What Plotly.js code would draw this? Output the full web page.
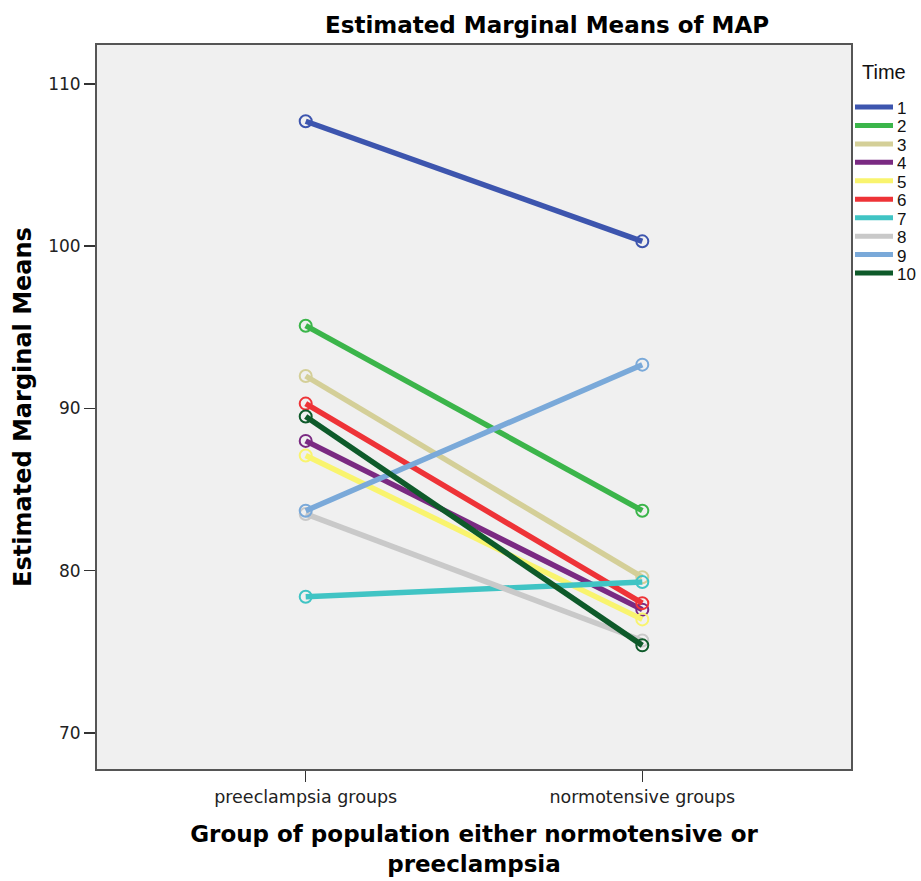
<!DOCTYPE html>
<html><head><meta charset="utf-8">
<script src="https://cdn.plot.ly/plotly-3.0.1.min.js"></script>
<style>body{margin:0;background:#fff}#chart{width:921px;height:881px}</style>
</head><body><div id="chart"></div>
<script>
const groups = ["preeclampsia groups", "normotensive groups"];
const times = ["1","2","3","4","5","6","7","8","9","10"];
const preValues  = [107.7, 95.1, 92.0, 88.0, 87.1, 90.3, 78.4, 83.5, 83.7, 89.5];
const normValues = [100.3, 83.7, 79.6, 77.6, 77.0, 78.0, 79.3, 75.7, 92.7, 75.4];
const colors = ["#3D55AE","#3BB54A","#D4CF98","#7A2A82","#F9F46E","#EE3337","#40C4C4","#C9C9C9","#7AA9D9","#0E5A2A"];
const yTicks = [70, 80, 90, 100, 110];

const traces = times.map((t, i) => ({
  x: groups, y: [preValues[i], normValues[i]], type: 'scatter', mode: 'lines+markers', name: t,
  line: {color: colors[i], width: 5.5},
  marker: {symbol: 'circle-open', size: 12, color: colors[i], line: {width: 2, color: colors[i]}},
  showlegend: false, hoverinfo: 'skip'
}));

// Legend drawn as shapes + annotations (plot area: x 97..851, y 45..769)
const W = 921, H = 881, L = 97, R = 851, T = 45, B = 769;
const px = x => (x - L) / (R - L);
const py = y => (B - y) / (B - T);
const shapes = [];
const annotations = [{
  text: '<b>Estimated Marginal Means of MAP</b>', xref: 'paper', yref: 'paper',
  x: px(547), y: py(25), xanchor: 'center', yanchor: 'middle', showarrow: false,
  font: {size: 23, color: '#000', family: 'DejaVu Sans, sans-serif'}
}, {
  text: 'Time', xref: 'paper', yref: 'paper', x: px(860), y: py(72),
  xanchor: 'left', yanchor: 'middle', showarrow: false,
  font: {size: 20, color: '#111', family: 'Liberation Sans, Arial, sans-serif'}
}];
times.forEach((t, i) => {
  const yy = 107 + 18.45 * i;
  shapes.push({type: 'line', xref: 'paper', yref: 'paper', x0: px(855), x1: px(893), y0: py(yy), y1: py(yy),
    line: {color: colors[i], width: 5}});
  annotations.push({text: t, xref: 'paper', yref: 'paper', x: px(896), y: py(yy + 1),
    xanchor: 'left', yanchor: 'middle', showarrow: false, height: 16, borderpad: 0,
    font: {size: 17, color: '#111', family: 'Liberation Sans, Arial, sans-serif'}});
});

const layout = {
  width: W, height: H,
  margin: {l: L, r: W - R, t: T, b: H - B},
  paper_bgcolor: '#ffffff', plot_bgcolor: '#F0F0F0',
  font: {family: 'DejaVu Sans, sans-serif', color: '#222'},
  showlegend: false,
  xaxis: {
    type: 'category', range: [-0.62, 1.62], showgrid: false, zeroline: false,
    ticks: 'outside', ticklen: 11, tickwidth: 1.5, tickcolor: '#333',
    tickfont: {size: 17.5, color: '#222'},
    showline: true, linecolor: '#555', linewidth: 2, mirror: true,
    title: {text: '<b>Group of population either normotensive or<br>preeclampsia</b>', font: {size: 23, color: '#000', family: 'DejaVu Sans, sans-serif'}, standoff: 20}
  },
  yaxis: {
    range: [67.78, 112.4], tickvals: yTicks, showgrid: false, zeroline: false,
    ticks: 'outside', ticklen: 11, tickwidth: 1.5, tickcolor: '#333',
    tickfont: {size: 17, color: '#222'},
    showline: true, linecolor: '#555', linewidth: 2, mirror: true,
    title: {text: '<b>Estimated Marginal Means</b>', font: {size: 24, color: '#000', family: 'DejaVu Sans, sans-serif'}, standoff: 10}
  },
  shapes: shapes,
  annotations: annotations
};
Plotly.newPlot('chart', traces, layout, {displayModeBar: false, staticPlot: true});
</script></body></html>
